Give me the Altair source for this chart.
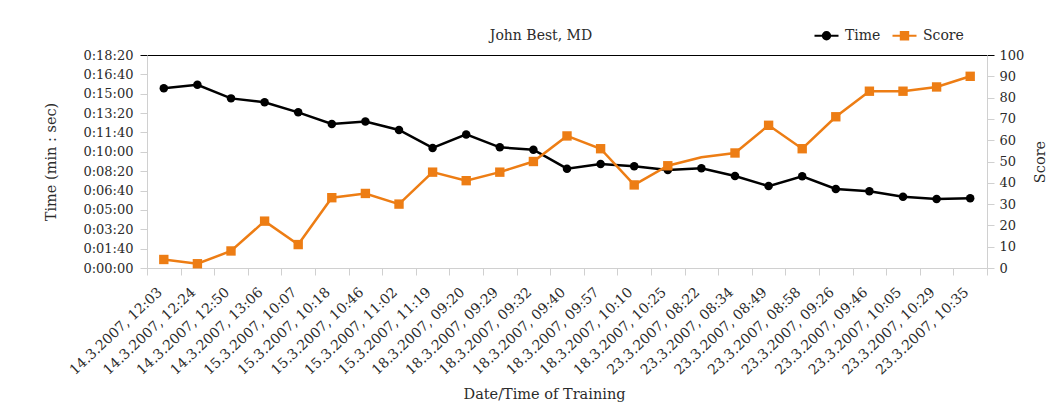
import altair as alt
import pandas as pd

# ---------------- data ----------------
labels = [
    "14.3.2007, 12:03", "14.3.2007, 12:24", "14.3.2007, 12:50", "14.3.2007, 13:06",
    "15.3.2007, 10:07", "15.3.2007, 10:18", "15.3.2007, 10:46", "15.3.2007, 11:02",
    "15.3.2007, 11:19", "18.3.2007, 09:20", "18.3.2007, 09:29", "18.3.2007, 09:32",
    "18.3.2007, 09:40", "18.3.2007, 09:57", "18.3.2007, 10:10", "18.3.2007, 10:25",
    "23.3.2007, 08:22", "23.3.2007, 08:34", "23.3.2007, 08:49", "23.3.2007, 08:58",
    "23.3.2007, 09:26", "23.3.2007, 09:46", "23.3.2007, 10:05", "23.3.2007, 10:29",
    "23.3.2007, 10:35",
]
# training time in seconds
time_seconds = [928, 946, 876, 856, 804, 744, 757, 713, 620, 690, 623, 611, 513,
                537, 525, 506, 515, 475, 423, 474, 408, 396, 368, 356, 360]
score_values = [4, 2, 8, 22, 11, 33, 35, 30, 45, 41, 45, 50, 62,
                56, 39, 48, 52, 54, 67, 56, 71, 83, 83, 85, 90]
series_names = ["Time", "Score"]
score_without_marker = ["23.3.2007, 08:22"]
time_ticks = list(range(0, 1101, 100))
score_ticks = list(range(0, 101, 10))

rows = []
for i, lab in enumerate(labels):
    rows.append({"label": lab, "series": "Time", "value": time_seconds[i], "marker": True})
    rows.append({"label": lab, "series": "Score", "value": score_values[i],
                 "marker": lab not in score_without_marker})
df = pd.DataFrame(rows)

# ---------------- style ----------------
FONT = "DejaVu Serif"
TXT = "#2b2b2b"
AXC = "#d0d0d0"
ORANGE = "#ED7D14"
W, H = 840, 213

x_enc = alt.X(
    "label:N", sort=labels,
    scale=alt.Scale(type="band", paddingInner=0, paddingOuter=0),
    axis=alt.Axis(
        title="Date/Time of Training", labelAngle=317, labelAlign="right",
        labelBaseline="middle", tickBand="extent", tickSize=7, tickColor=AXC,
        domainColor=AXC, labelFont=FONT, labelFontSize=14, labelColor=TXT,
        labelPadding=15, labelOffset=-4, labelOverlap=False, labelLimit=0, grid=False,
        titleFont=FONT, titleFontSize=14.5, titleFontWeight="normal", titleColor=TXT,
        titleX=397, titleY=119, titleBaseline="top", titleAlign="center",
    ),
)

label_expr = ("'0:' + slice('0' + floor(datum.value / 60), -2) + ':' + "
              "slice('0' + (datum.value % 60), -2)")

y_time = alt.Y(
    "value:Q",
    scale=alt.Scale(domain=[0, 1100], nice=False, zero=True),
    axis=alt.Axis(
        orient="left", values=time_ticks, labelExpr=label_expr,
        title="Time (min : sec)", grid=True,
        gridColor={"condition": {"test": "datum.value == 1100", "value": "#000000"},
                   "value": "transparent"},
        tickColor={"condition": {"test": "datum.value == 1100", "value": "#000000"},
                   "value": AXC},
        tickSize=7, domainColor=AXC, labelFont=FONT, labelFontSize=13, labelColor=TXT,
        labelPadding=7, labelOverlap=False, titleFont=FONT, titleFontSize=14.5,
        titleFontWeight="normal", titleColor=TXT, titlePadding=24,
    ),
)

y_score = alt.Y(
    "value:Q",
    scale=alt.Scale(domain=[0, 100], nice=False, zero=True),
    axis=alt.Axis(
        orient="right", values=score_ticks, title="Score", grid=False,
        tickColor={"condition": {"test": "datum.value == 100", "value": "#000000"},
                   "value": AXC},
        tickSize=7, domainColor=AXC, labelFont=FONT, labelFontSize=13, labelColor=TXT,
        labelPadding=5, labelOverlap=False, titleFont=FONT, titleFontSize=14.5,
        titleFontWeight="normal", titleColor=TXT, titlePadding=24, titleAngle=270,
    ),
)

circle_path = "M-1,0H1M0.3,0A0.3,0.3,0,1,1,-0.3,0A0.3,0.3,0,1,1,0.3,0Z"
square_path = "M-1,0H1M-0.3,-0.3H0.3V0.3H-0.3Z"
legend_cfg = dict(
    title=None, orient="none", legendX=666, legendY=-33, direction="horizontal",
    symbolSize=576, symbolStrokeWidth=2.2, symbolOpacity=1, labelFont=FONT,
    labelFontSize=14, labelColor=TXT, labelOffset=5, columnPadding=7, padding=0,
)

time_base = alt.Chart(df).transform_filter("datum.series == 'Time'")
time_line = time_base.mark_line(color="#000000", strokeWidth=2.5).encode(x=x_enc, y=y_time)
time_pts = time_base.mark_circle(color="#000000", size=72, opacity=1).encode(x=x_enc, y=y_time)
legend_layer = alt.Chart(df).mark_point(size=0, filled=True, opacity=1, strokeWidth=2.2).encode(
    x=x_enc, y=y_time,
    fill=alt.Fill("series:N", scale=alt.Scale(domain=series_names, range=["#000000", ORANGE]),
                  legend=alt.Legend(**legend_cfg)),
    stroke=alt.Stroke("series:N", scale=alt.Scale(domain=series_names, range=["#000000", ORANGE]),
                      legend=alt.Legend(**legend_cfg)),
    shape=alt.Shape("series:N", scale=alt.Scale(domain=series_names, range=[circle_path, square_path]),
                    legend=alt.Legend(**legend_cfg)),
)
time_layer = alt.layer(time_line, time_pts, legend_layer)

score_base = alt.Chart(df).transform_filter("datum.series == 'Score'")
score_line = score_base.mark_line(color=ORANGE, strokeWidth=2.5).encode(x=x_enc, y=y_score)
score_pts = score_base.transform_filter("datum.marker").mark_square(
    color=ORANGE, size=88, opacity=1).encode(x=x_enc, y=y_score)
score_layer = alt.layer(score_line, score_pts)

chart = alt.layer(time_layer, score_layer).resolve_scale(y="independent").properties(
    width=W, height=H,
    title=alt.TitleParams("John Best, MD", font=FONT, fontSize=14, fontWeight="normal",
                          color=TXT, anchor="middle", frame="group", dx=-26, dy=21, offset=0),
    autosize=alt.AutoSizeParams(type="none"),
    padding={"left": 139, "top": 47, "right": 60, "bottom": 136},
).configure_view(stroke=None).configure(background="white")

chart.save("out.html", embed_options={"renderer": "svg", "actions": False})
